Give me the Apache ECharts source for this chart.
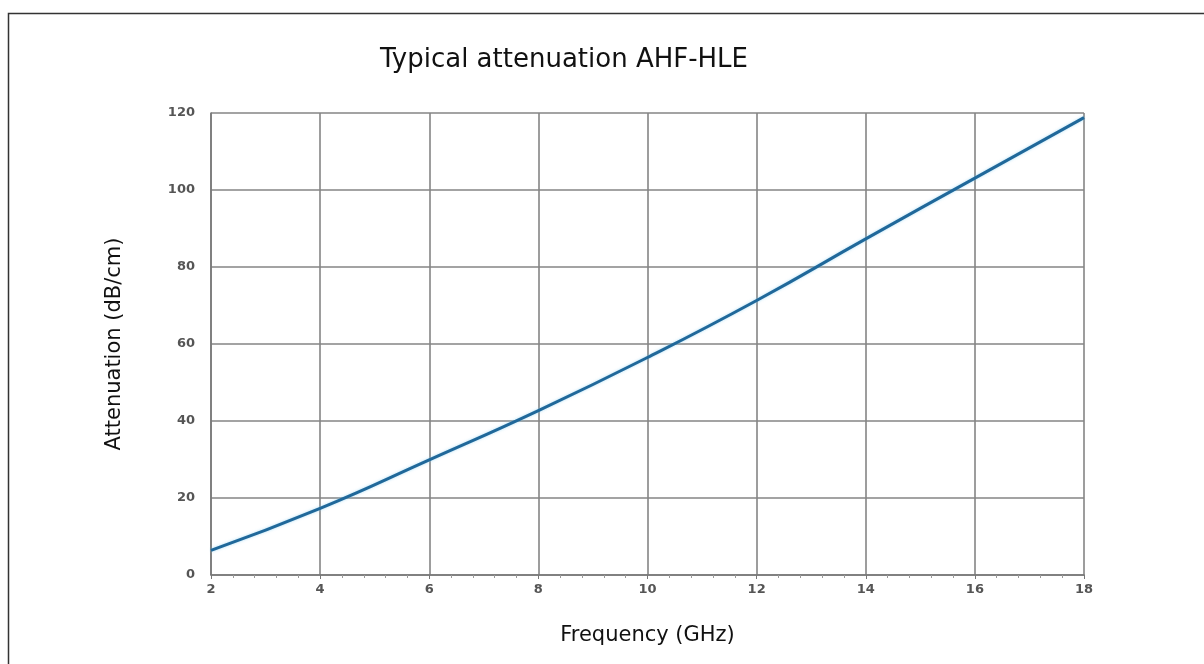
<!DOCTYPE html>
<html>
<head>
<meta charset="utf-8">
<script src="https://cdn.jsdelivr.net/npm/echarts@6/dist/echarts.min.js"></script>
<style>
html,body{margin:0;padding:0;background:#fff;}
#chart{width:1204px;height:664px;}
</style>
</head>
<body>
<div id="chart"></div>
<script>
const titleText = 'Typical attenuation AHF-HLE';
const xName = 'Frequency (GHz)';
const yName = 'Attenuation (dB/cm)';
const frequency = [2, 4, 6, 8, 10, 12, 14, 16, 18];
const attenuation = [6.4, 17.3, 29.9, 42.7, 56.5, 71.3, 87.3, 103.1, 118.8];

const chart = echarts.init(document.getElementById('chart'), null, {renderer: 'canvas'});
const seriesData = frequency.map((f, i) => [f, attenuation[i]]);
chart.setOption({
  animation: false,
  backgroundColor: '#ffffff',
  graphic: [{
    type: 'polyline',
    shape: {points: [[8.5, 700], [8.5, 13.5], [1210, 13.5]]},
    style: {stroke: '#333', lineWidth: 1.5, fill: null},
    silent: true
  }],
  title: {
    text: titleText,
    left: 559, top: 42, textAlign: 'center',
    textStyle: {fontFamily: 'DejaVu Sans', fontSize: 26, fontWeight: 'normal', color: '#111'}
  },
  grid: {left: 211, right: 120, top: 113, bottom: 89, containLabel: false},
  xAxis: {
    type: 'value', min: 2, max: 18, interval: 2,
    name: xName, nameLocation: 'middle', nameGap: 50,
    nameTextStyle: {fontFamily: 'DejaVu Sans', fontSize: 21, color: '#111'},
    axisLine: {show: true, lineStyle: {color: '#777', width: 1.5}},
    axisTick: {show: true, inside: false, length: 4, lineStyle: {color: '#777'}},
    minorTick: {show: true, splitNumber: 5, length: 3, lineStyle: {color: '#999'}},
    axisLabel: {fontFamily: 'DejaVu Sans', fontSize: 13, fontWeight: 'bold', color: '#555', margin: 8},
    splitLine: {show: true, lineStyle: {color: '#858585', width: 1.6}}
  },
  yAxis: {
    type: 'value', min: 0, max: 120, interval: 20,
    name: yName, nameLocation: 'middle', nameGap: 86, nameRotate: 90,
    nameTextStyle: {fontFamily: 'DejaVu Sans', fontSize: 21, color: '#111'},
    axisLine: {show: true, lineStyle: {color: '#777', width: 1.5}},
    axisTick: {show: false},
    axisLabel: {fontFamily: 'DejaVu Sans', fontSize: 13, fontWeight: 'bold', color: '#555', margin: 16},
    splitLine: {show: true, lineStyle: {color: '#858585', width: 1.6}}
  },
  series: [{
    type: 'line', data: seriesData, smooth: true, symbol: 'none',
    lineStyle: {color: '#20689a', width: 3, shadowColor: 'rgba(120,200,240,0.6)', shadowBlur: 3}
  }]
});
</script>
</body>
</html>
